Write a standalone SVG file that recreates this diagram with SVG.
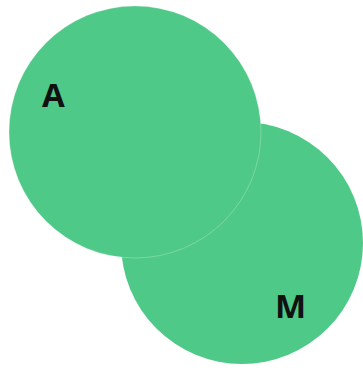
<svg xmlns="http://www.w3.org/2000/svg" width="363" height="368" viewBox="0 0 363 368">
<style>
.c{fill:#4fc987}
.t{font-family:"Open Sans","Liberation Sans",sans-serif;font-weight:700;font-size:33px;fill:#111}
</style>
<rect width="363" height="368" fill="#fff"/>
<g id="M"><circle class="c" cx="242" cy="243" r="121"/><text class="t" x="275" y="318">M</text></g>
<g id="A"><circle class="c" cx="135" cy="132" r="126" stroke="#fff" stroke-opacity="0.25" stroke-width="1"/><text class="t" x="42" y="107">A</text></g>
<g id="connectors"/>
</svg>
